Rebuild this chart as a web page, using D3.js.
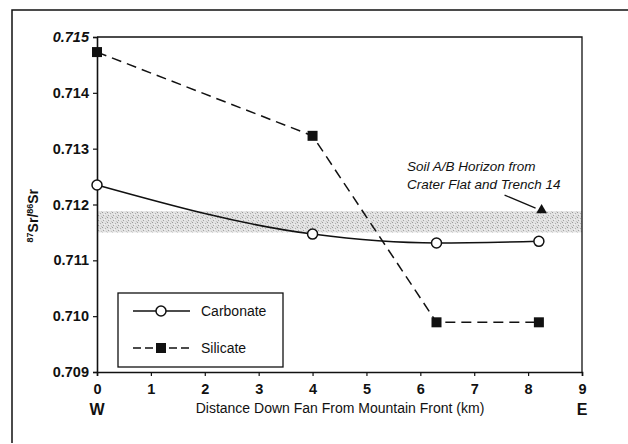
<!DOCTYPE html>
<html lang="en">
<head>
<meta charset="UTF-8">
<title>Sr isotopes down fan</title>
<script src="https://d3js.org/d3.v7.min.js"></script>
<style>
  body { margin: 0; background: #fff; }
  svg text { font-family: "Liberation Sans", Arial, sans-serif; fill: #111; }
</style>
</head>
<body>
<div id="chart"></div>
<script>
// data
const carbDist = [0, 4, 6.3, 8.2];
const carbRatio = [0.71235, 0.71147, 0.71131, 0.71134];
const silDist = [0, 4, 6.3, 8.2];
const silRatio = [0.71473, 0.71323, 0.70989, 0.70989];
const soilPoint = [8.25, 0.7119];
const soilBand = [0.7115, 0.71188];
const xTicks = [0, 1, 2, 3, 4, 5, 6, 7, 8, 9];
const yTicks = [0.709, 0.710, 0.711, 0.712, 0.713, 0.714, 0.715];

const W = 628, H = 444;
const margin = {top: 37, right: 46, bottom: 72, left: 97};
const width = W - margin.left - margin.right, height = H - margin.top - margin.bottom;

const root = d3.select("#chart").append("svg")
    .attr("width", W).attr("height", H);

// outer frame (scanned page border)
root.append("path")
    .attr("d", "M12,443 L12,10 L628,10")
    .attr("fill", "none").attr("stroke", "#111").attr("stroke-width", 1.5);

// stipple pattern for the soil band
const defs = root.append("defs");
const pat = defs.append("pattern").attr("id", "stip")
    .attr("width", 5).attr("height", 5).attr("patternUnits", "userSpaceOnUse");
pat.append("rect").attr("width", 5).attr("height", 5).attr("fill", "#e2e2e2");
[[0, 0, "#9a9a9a"], [3, 1, "#b0b0b0"], [1, 3, "#a4a4a4"], [4, 4, "#c4c4c4"], [2, 2, "#f4f4f4"]]
    .forEach(p => pat.append("rect").attr("x", p[0]).attr("y", p[1])
        .attr("width", 1).attr("height", 1).attr("fill", p[2]));

const svg = root.append("g").attr("transform", `translate(${margin.left},${margin.top})`);

const x = d3.scaleLinear().domain([0, 9]).range([0, width]);
const y = d3.scaleLinear().domain([0.709, 0.715]).range([height, 0]);

// shaded band
svg.append("rect")
    .attr("x", x(0)).attr("width", x(9) - x(0))
    .attr("y", y(soilBand[1])).attr("height", y(soilBand[0]) - y(soilBand[1]))
    .attr("fill", "url(#stip)");

// plot box top and right
svg.append("path")
    .attr("d", `M${x(0)},${y(0.715)} L${x(9)},${y(0.715)} L${x(9)},${y(0.709)}`)
    .attr("fill", "none").attr("stroke", "#111").attr("stroke-width", 1.3);

// axes
const xAxis = svg.append("g")
    .attr("transform", `translate(0,${height})`)
    .call(d3.axisBottom(x).tickValues(xTicks).tickSize(4).tickPadding(8).tickFormat(d3.format("d")));
const yAxis = svg.append("g")
    .call(d3.axisLeft(y).tickValues(yTicks).tickSize(4).tickPadding(4).tickFormat(d3.format(".3f")));
[xAxis, yAxis].forEach(a => {
    a.attr("font-size", null);
    a.select(".domain").attr("stroke", "#111").attr("stroke-width", 1.6);
    a.selectAll(".tick line").attr("stroke", "#111").attr("stroke-width", 1.2);
    a.selectAll("text").style("font-size", "14.5px").style("font-weight", "bold").attr("fill", "#111");
});
yAxis.selectAll(".tick text").filter(d => d === 0.715).style("font-style", "italic");

// W / E labels
svg.append("text").attr("x", x(0)).attr("y", height + 43)
    .attr("text-anchor", "middle").style("font-size", "16px").style("font-weight", "bold").text("W");
svg.append("text").attr("x", x(9)).attr("y", height + 43)
    .attr("text-anchor", "middle").style("font-size", "16px").style("font-weight", "bold").text("E");

// axis titles
svg.append("text").attr("x", 340 - margin.left).attr("y", height + 41)
    .attr("text-anchor", "middle").style("font-size", "14px")
    .text("Distance Down Fan From Mountain Front (km)");

const yl = svg.append("text")
    .attr("transform", `translate(${38 - margin.left},${y(0.7118)}) rotate(-90)`)
    .attr("text-anchor", "middle").style("font-size", "14px").style("font-weight", "bold");
yl.append("tspan").attr("dy", "-5").style("font-size", "9px").text("87");
yl.append("tspan").attr("dy", "5").text("Sr/");
yl.append("tspan").attr("dy", "-5").style("font-size", "9px").text("86");
yl.append("tspan").attr("dy", "5").text("Sr");

// lines
const carb = carbDist.map((d, i) => [d, carbRatio[i]]);
const sil = silDist.map((d, i) => [d, silRatio[i]]);
const line = d3.line().x(d => x(d[0])).y(d => y(d[1]));
const carbCurve = d3.line().x(d => x(d[0])).y(d => y(d[1])).curve(d3.curveMonotoneX);

svg.append("path").datum(sil).attr("d", line)
    .attr("fill", "none").attr("stroke", "#111").attr("stroke-width", 1.5)
    .attr("stroke-dasharray", "10,6");
svg.append("path").datum(carb).attr("d", carbCurve)
    .attr("fill", "none").attr("stroke", "#111").attr("stroke-width", 1.5);

svg.selectAll(".sq").data(sil).enter().append("rect")
    .attr("x", d => x(d[0]) - 5).attr("y", d => y(d[1]) - 5)
    .attr("width", 10).attr("height", 10).attr("fill", "#111");
svg.selectAll(".circ").data(carb).enter().append("circle")
    .attr("cx", d => x(d[0])).attr("cy", d => y(d[1])).attr("r", 5)
    .attr("fill", "#fff").attr("stroke", "#111").attr("stroke-width", 1.5);

// soil triangle + annotation
const tx = x(soilPoint[0]), ty = y(soilPoint[1]);
svg.append("path")
    .attr("d", d3.symbol().type(d3.symbolTriangle).size(50)())
    .attr("transform", `translate(${tx},${ty})`).attr("fill", "#111");
svg.append("line")
    .attr("x1", tx - 37).attr("y1", ty - 15).attr("x2", tx - 6).attr("y2", ty - 2)
    .attr("stroke", "#111").attr("stroke-width", 1.3);

const ann = svg.append("g").attr("transform", `translate(${407 - margin.left},0)`);
ann.append("text").attr("y", 171 - margin.top).style("font-size", "13.5px").style("font-style", "italic")
    .text("Soil A/B Horizon from");
ann.append("text").attr("y", 189 - margin.top).style("font-size", "13.5px").style("font-style", "italic")
    .text("Crater Flat and Trench 14");

// legend
const lg = svg.append("g").attr("transform", `translate(${118 - margin.left},${293 - margin.top})`);
lg.append("rect").attr("width", 165).attr("height", 74)
    .attr("fill", "#fff").attr("stroke", "#111").attr("stroke-width", 1.3);
const items = [
    {name: "Carbonate", dash: null, mark: "circle"},
    {name: "Silicate", dash: "8,4", mark: "square"}
];
items.forEach((it, i) => {
    const yy = 18 + i * 37;
    lg.append("line").attr("x1", 15).attr("x2", 72).attr("y1", yy).attr("y2", yy)
        .attr("stroke", "#111").attr("stroke-width", 1.4)
        .attr("stroke-dasharray", it.dash);
    if (it.mark === "circle") {
        lg.append("circle").attr("cx", 43).attr("cy", yy).attr("r", 5)
            .attr("fill", "#fff").attr("stroke", "#111").attr("stroke-width", 1.5);
    } else {
        lg.append("rect").attr("x", 38).attr("y", yy - 5).attr("width", 10).attr("height", 10).attr("fill", "#111");
    }
    lg.append("text").attr("x", 83).attr("y", yy + 5).style("font-size", "14px").text(it.name);
});
</script>
</body>
</html>
